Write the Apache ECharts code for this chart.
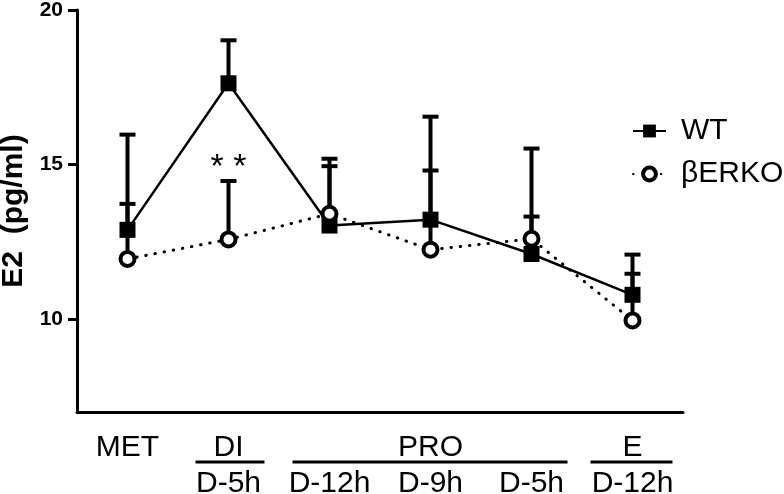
<!DOCTYPE html>
<html>
<head>
<meta charset="utf-8">
<script src="https://cdn.jsdelivr.net/npm/echarts@6/dist/echarts.min.js"></script>
<style>html,body{margin:0;padding:0;background:#fff;}#c{width:784px;height:494px;}</style>
</head>
<body>
<div id="c"></div>
<script>
// ---- data ----
var categories = ['MET', 'DI D-5h', 'PRO D-12h', 'PRO D-9h', 'PRO D-5h', 'E D-12h'];
var stageLabels = ['MET', 'DI', '', 'PRO', '', 'E'];
var timeLabels = ['', 'D-5h', 'D-12h', 'D-9h', 'D-5h', 'D-12h'];
var wtMean = [12.89, 17.63, 13.03, 13.22, 12.11, 10.79];
var wtUpper = [15.97, 19.02, 15.19, 16.55, 15.52, 12.09];
var berkoMean = [11.95, 12.58, 13.41, 12.25, 12.60, 9.96];
var berkoUpper = [13.73, 14.47, 14.95, 14.81, 13.32, 11.47];
var yTicks = [10, 15, 20];
var sigCategory = 1;
var sigValue = 14.9;
var sigText = '* *';

var FONT = 'Liberation Sans, Arial, sans-serif';
var chart = echarts.init(document.getElementById('c'), null, {renderer: 'canvas'});

function errData(mean, upper) {
  return mean.map(function (m, i) { return [i, m, upper[i]]; });
}
function errRender(params, api) {
  var x = api.value(0);
  var p0 = api.coord([x, api.value(1)]);
  var p1 = api.coord([x, api.value(2)]);
  return {
    type: 'group',
    children: [
      {type: 'line', shape: {x1: p0[0], y1: p0[1], x2: p1[0], y2: p1[1]}, style: {stroke: '#000', lineWidth: 4}},
      {type: 'line', shape: {x1: p1[0] - 8, y1: p1[1], x2: p1[0] + 8, y2: p1[1]}, style: {stroke: '#000', lineWidth: 4}}
    ]
  };
}

var option = {
  animation: false,
  backgroundColor: '#fff',
  grid: {left: 77, right: 101, top: 10, bottom: 82, containLabel: false, outerBoundsMode: 'none'},
  legend: {
    data: [
      {name: 'WT', itemStyle: {color: '#000'}},
      {name: 'βERKO', itemStyle: {color: '#fff', borderColor: '#000', borderWidth: 4}}
    ],
    orient: 'vertical',
    left: 627,
    top: 111,
    itemWidth: 33,
    itemHeight: 16,
    itemGap: 13,
    textStyle: {fontFamily: FONT, fontSize: 30, color: '#000', lineHeight: 16, padding: [0, 0, 0, 10]}
  },
  xAxis: {
    type: 'category',
    data: categories,
    boundaryGap: true,
    axisLine: {lineStyle: {color: '#000', width: 3}},
    axisTick: {alignWithLabel: true, length: 9, lineStyle: {color: '#000', width: 3}},
    axisLabel: {
      interval: 0,
      margin: 18,
      formatter: function (v, i) {
        return '{a|' + (stageLabels[i] || ' ') + '}\n{b|' + (timeLabels[i] || ' ') + '}';
      },
      rich: {
        a: {fontFamily: FONT, fontSize: 30, color: '#000', lineHeight: 36},
        b: {fontFamily: FONT, fontSize: 30, color: '#000', lineHeight: 36}
      }
    },
    splitLine: {show: false}
  },
  yAxis: {
    type: 'value',
    min: 7,
    max: 20,
    name: 'E2  (pg/ml)',
    nameLocation: 'middle',
    nameGap: 47,
    nameTextStyle: {fontFamily: FONT, fontSize: 30, fontWeight: 'bold', color: '#000'},
    axisLine: {show: true, lineStyle: {color: '#000', width: 3}},
    axisTick: {show: true, customValues: yTicks, length: 9, lineStyle: {color: '#000', width: 3}},
    axisLabel: {customValues: yTicks, margin: 14, fontFamily: FONT, fontSize: 21, fontWeight: 'bold', color: '#000'},
    splitLine: {show: false}
  },
  series: [
    {type: 'custom', renderItem: errRender, data: errData(wtMean, wtUpper), z: 1, silent: true},
    {type: 'custom', renderItem: errRender, data: errData(berkoMean, berkoUpper), z: 1, silent: true},
    {
      name: 'WT', type: 'line', data: wtMean, z: 3,
      symbol: 'rect', symbolSize: 16,
      lineStyle: {color: '#000', width: 2.5},
      itemStyle: {color: '#000'}
    },
    {
      name: 'βERKO', type: 'line', data: berkoMean, z: 4,
      symbol: 'circle', symbolSize: 14,
      lineStyle: {color: '#000', width: 3, type: [0.5, 8.8], cap: 'round'},
      itemStyle: {color: '#fff', borderColor: '#000', borderWidth: 4},
      markPoint: {
        symbol: 'circle', symbolSize: 1, itemStyle: {color: 'rgba(0,0,0,0)'},
        label: {show: true, position: 'inside', formatter: sigText, fontFamily: FONT, fontSize: 34, color: '#000'},
        data: [{coord: [sigCategory, sigValue]}]
      }
    }
  ]
};
chart.setOption(option);

// bracket lines under the stage labels, placed from the category scale
function px(i) { return chart.convertToPixel({xAxisIndex: 0}, i); }
var yLine = chart.convertToPixel({yAxisIndex: 0}, 7) + 50;
var brackets = [
  [px(1) - 33, px(1) + 36],
  [px(2) - 37, px(4) + 36],
  [px(5) - 42, px(5) + 40]
];
chart.setOption({
  graphic: brackets.map(function (b) {
    return {type: 'line', shape: {x1: b[0], y1: yLine, x2: b[1], y2: yLine}, style: {stroke: '#000', lineWidth: 3}, silent: true};
  })
});
</script>
</body>
</html>
